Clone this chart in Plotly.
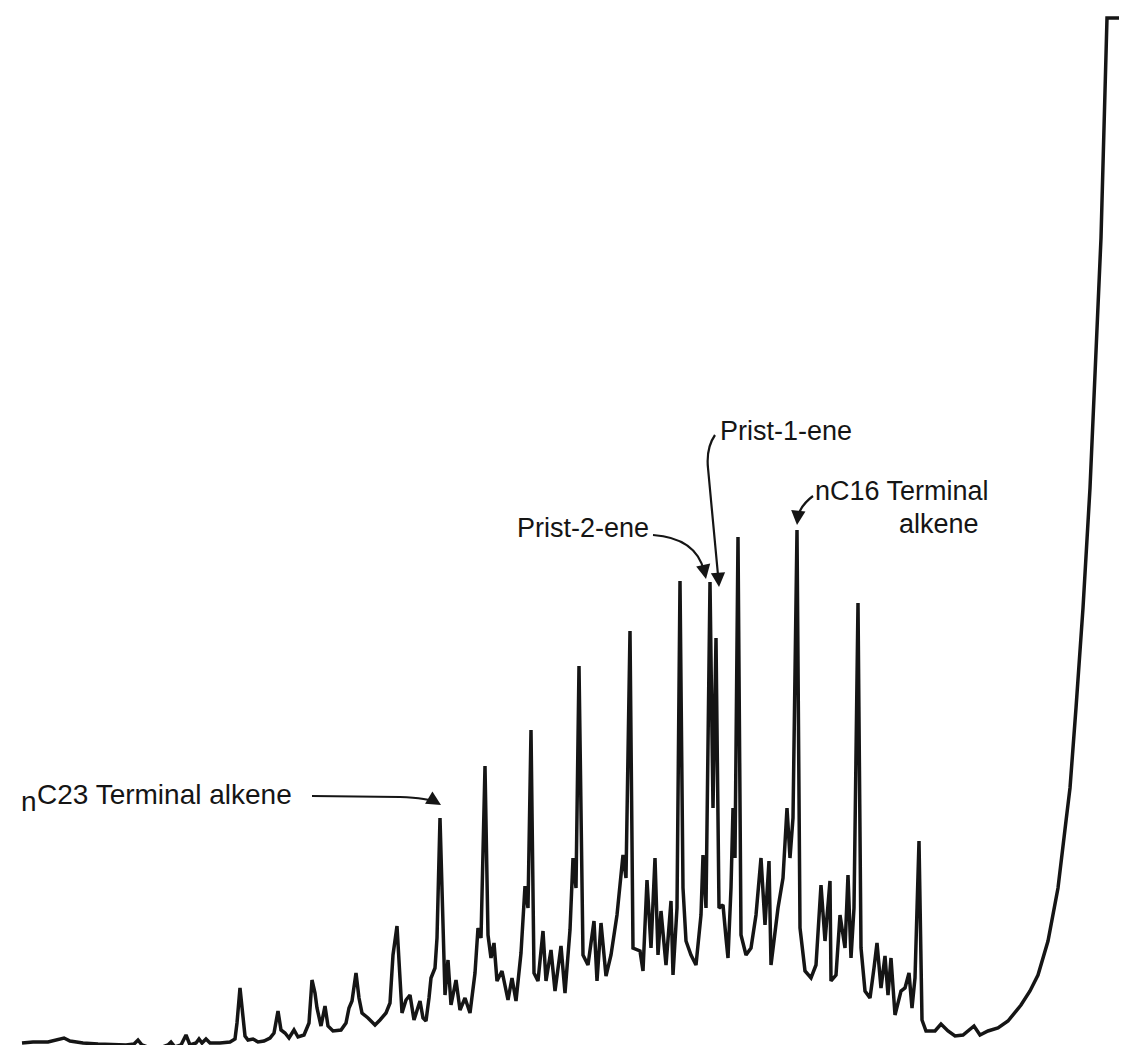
import plotly.graph_objects as go

# Chromatogram trace (retention in arbitrary units, detector response in arbitrary units)
retention = [14, 25, 40, 50, 56, 62, 75, 90, 105, 118, 126, 130, 134, 142, 152, 160, 163, 167, 173, 178,
             182, 188, 191, 194, 198, 202, 212, 222, 227, 229, 232, 235, 237, 240, 245, 250, 256, 262, 266, 270,
             273, 277, 281, 286, 290, 296, 301, 304, 307, 309, 313, 317, 320, 325, 333, 338, 341, 344, 348, 351,
             354, 360, 367, 372, 378, 382, 385, 389, 392, 394, 398, 402, 406, 410, 412, 415, 418, 421, 423, 427,
             429, 432, 435, 437, 440, 443, 448, 452, 457, 462, 467, 470, 473, 477, 480, 483, 486, 489, 494, 500,
             504, 508, 513, 517, 520, 523, 526, 530, 535, 538, 543, 547, 553, 557, 562, 565, 568, 571, 575, 580,
             586, 589, 593, 598, 603, 609, 615, 618, 622, 625, 632, 635, 639, 643, 647, 650, 653, 658, 663, 665,
             669, 672, 675, 678, 683, 688, 693, 695, 698, 702, 705, 708, 711, 715, 718, 720, 723, 725, 727, 730,
             733, 738, 743, 748, 753, 757, 761, 763, 770, 775, 779, 782, 785, 789, 792, 797, 803, 808, 813, 817,
             822, 823, 828, 832, 837, 840, 843, 846, 850, 853, 857, 862, 866, 869, 873, 877, 880, 883, 887, 893,
             897, 901, 904, 907, 911, 914, 918, 927, 933, 940, 947, 955, 966, 972, 980, 990, 1000, 1013, 1022, 1030,
             1040, 1050, 1058, 1062, 1068, 1075, 1082, 1088, 1093, 1096, 1098, 1099, 1127]
response = [10, 11, 11, 13, 15, 12, 10, 9, 8, 8, 9, 13, 8, 5, 5, 8, 11, 6, 8, 18,
            8, 10, 14, 10, 14, 10, 10, 11, 14, 30, 65, 40, 17, 13, 14, 11, 12, 15, 20, 42,
            23, 20, 15, 23, 16, 18, 30, 73, 60, 45, 27, 47, 27, 22, 23, 30, 45, 52, 80, 55,
            40, 35, 28, 33, 40, 50, 98, 127, 80, 40, 53, 58, 33, 45, 52, 35, 32, 55, 75, 85,
            115, 235, 110, 58, 93, 48, 73, 43, 55, 40, 80, 125, 115, 287, 118, 95, 110, 72, 82, 53,
            75, 52, 100, 167, 145, 323, 80, 72, 122, 72, 103, 62, 107, 60, 123, 195, 165, 387, 98, 88,
            132, 72, 130, 77, 98, 138, 198, 175, 422, 105, 102, 82, 173, 105, 195, 98, 142, 88, 152, 78,
            145, 472, 165, 112, 98, 88, 138, 198, 145, 471, 245, 415, 145, 148, 115, 95, 165, 245, 195, 516,
            118, 98, 105, 138, 195, 128, 192, 88, 145, 175, 245, 195, 235, 523, 125, 82, 75, 88, 168, 112,
            172, 72, 78, 138, 105, 178, 95, 145, 450, 105, 62, 55, 85, 110, 65, 97, 58, 95, 38, 62,
            65, 80, 45, 75, 212, 33, 22, 22, 29, 22, 17, 18, 27, 18, 22, 25, 32, 48, 62, 78,
            112, 165, 232, 265, 345, 445, 565, 695, 815, 925, 1005, 1035, 1035]

label_text = ["Prist-2-ene", "Prist-1-ene", "nC16 Terminal", "alkene", "C23 Terminal alkene", "n"]

INK = "#151515"
FONT = "Liberation Sans, Arial, Helvetica, sans-serif"
FS = 27

fig = go.Figure()
fig.add_trace(go.Scatter(x=retention, y=response, mode="lines",
                         line=dict(color=INK, width=3.5), hoverinfo="skip", showlegend=False))

# curved leader lines
paths = [
    "M 304,257 L 392,256 Q 420,255 430,250",          # nC23
    "M 645,518 Q 688,515 696,482",                     # Prist-2-ene
    "M 707,618 Q 698,605 700,585 L 710,478",           # Prist-1-ene
    "M 805,557 Q 793,548 790,537",                     # nC16
]
for p in paths:
    fig.add_shape(type="path", path=p, xref="x", yref="y",
                  line=dict(color=INK, width=2.2))

# arrow heads
heads = [((428, 251), (433, 248)), ((696, 484), (698, 474)),
         ((710, 480), (711, 466)), ((790, 539), (789, 528))]
for (ax, ay), (x, y) in heads:
    fig.add_annotation(x=x, y=y, ax=ax, ay=ay, xref="x", yref="y", axref="x", ayref="y",
                       text="", showarrow=True, arrowhead=2, arrowsize=1.3,
                       arrowwidth=2.2, arrowcolor=INK)

def label(txt, x, y, xanchor, yanchor="middle", size=FS):
    fig.add_annotation(x=x, y=y, xref="x", yref="y", text=txt, showarrow=False,
                       xanchor=xanchor, yanchor=yanchor, borderpad=0,
                       font=dict(family=FONT, size=size, color=INK))

label(label_text[0], 642, 1045 - 520, "right")
label(label_text[1], 711, 1045 - 423, "left")
label(label_text[2], 806, 1045 - 499, "left", "bottom")
label(label_text[3], 890, 1045 - 500, "left", "top")
label(label_text[4], 28, 1045 - 786, "left", size=28)
label(label_text[5], 12, 1045 - 793, "left", size=28)

fig.update_layout(width=1127, height=1045, margin=dict(l=0, r=0, t=0, b=0),
                  paper_bgcolor="white", plot_bgcolor="white",
                  xaxis=dict(range=[0, 1127], visible=False, fixedrange=True),
                  yaxis=dict(range=[0, 1045], visible=False, fixedrange=True))

fig.write_html("out.html")
